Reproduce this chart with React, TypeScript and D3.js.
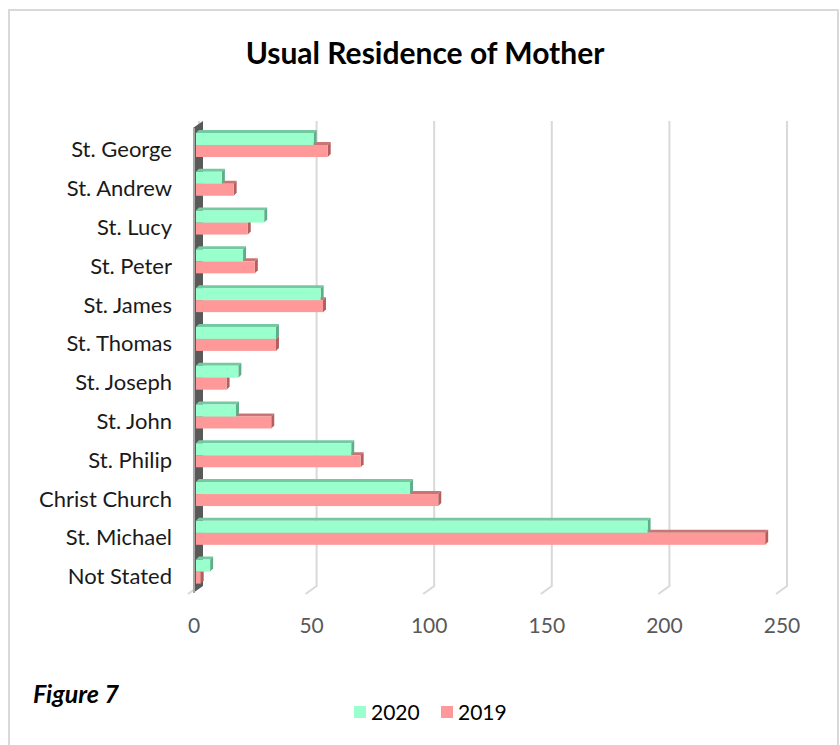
import React from 'react';
import * as d3 from 'd3';

const categories = ['St. George', 'St. Andrew', 'St. Lucy', 'St. Peter', 'St. James', 'St. Thomas', 'St. Joseph', 'St. John', 'St. Philip', 'Christ Church', 'St. Michael', 'Not Stated'];
const values2020 = [50, 11, 29, 20, 53, 34, 18, 17, 66, 91, 192, 6];
const values2019 = [56, 16, 22, 25, 54, 34, 13, 32, 70, 103, 242, 2];
const ticks = [0, 50, 100, 150, 200, 250];
const seriesNames = ['2020', '2019'];

const W = 840;
const H = 745;
const font = 'Lato, "Open Sans", sans-serif';

// colours: front face, darker top/side face
const green = { front: '#99FFCC', top: '#74c9a0', side: '#5fae8a' };
const pink = { front: '#FF9999', top: '#c97575', side: '#b35f5f' };

const D = 3; // bar depth offset

function Bar3D({ x0, x1, y, h, c }: { x0: number; x1: number; y: number; h: number; c: typeof green }) {
  return (
    <g>
      <polygon points={`${x0},${y} ${x0 + D},${y - D} ${x1 + D},${y - D} ${x1},${y}`} fill={c.top} />
      <polygon points={`${x1},${y} ${x1 + D},${y - D} ${x1 + D},${y + h - D} ${x1},${y + h}`} fill={c.side} />
      <rect x={x0} y={y} width={Math.max(0, x1 - x0)} height={h} fill={c.front} />
    </g>
  );
}

export default function App() {
  // back wall scale (gridlines) and bar scale (mid depth)
  const xGrid = d3.scaleLinear().domain([0, 250]).range([199, 787]);
  const xBar = d3.scaleLinear().domain([0, 250]).range([196, 784]);
  const y = d3.scaleBand<string>().domain(categories).range([125.6, 591]);
  const barH = 12;

  const gridTop = 121;
  const gridBottom = 586;

  return (
    <svg width={W} height={H} style={{ position: 'absolute', left: 0, top: 0, background: '#fff' }}>
      <rect x={9} y={10} width={829} height={760} fill="#fff" stroke="#d9d9d9" strokeWidth={2} />

      <text x={425} y={64} textAnchor="middle" fontFamily={font} fontWeight={700} fontSize={30} fill="#000">
        Usual Residence of Mother
      </text>

      {/* back wall gridlines with floor edge */}
      {ticks.map(t => (
        <polyline
          key={t}
          points={`${xGrid(t)},${gridTop} ${xGrid(t)},${gridBottom} ${xGrid(t) - 11},${gridBottom + 8}`}
          fill="none"
          stroke="#d9d9d9"
          strokeWidth={2}
        />
      ))}

      {/* left side wall */}
      <polygon points="193,128 203,121 203,586 193,593" fill="#595959" />
      <line x1={194} y1={128} x2={194} y2={593} stroke="#a6a6a6" strokeWidth={2} />

      {categories.map((c, i) => {
        const cy = (y(c) as number) + y.bandwidth() / 2;
        return (
          <g key={c}>
            <Bar3D x0={xBar(0)} x1={xBar(values2019[i])} y={cy} h={barH} c={pink} />
            <Bar3D x0={xBar(0)} x1={xBar(values2020[i])} y={cy - barH} h={barH} c={green} />
            <text x={172} y={cy + 4} textAnchor="end" dominantBaseline="central" fontFamily={font} fontSize={22} fill="#1a1a1a">
              {c}
            </text>
          </g>
        );
      })}

      {ticks.map(t => (
        <text key={t} x={xGrid(t) - 5} y={633} textAnchor="middle" fontFamily={font} fontSize={21} fill="#595959">
          {t}
        </text>
      ))}

      <text x={33} y={703} fontFamily={font} fontWeight={700} fontStyle="italic" fontSize={25} fill="#000">
        Figure 7
      </text>

      {seriesNames.map((s, i) => (
        <g key={s} transform={`translate(${354 + i * 87},0)`}>
          <rect x={0} y={706} width={12} height={12} fill={i === 0 ? green.front : pink.front} />
          <text x={17} y={720} fontFamily={font} fontSize={21} fill="#000">
            {s}
          </text>
        </g>
      ))}
    </svg>
  );
}
